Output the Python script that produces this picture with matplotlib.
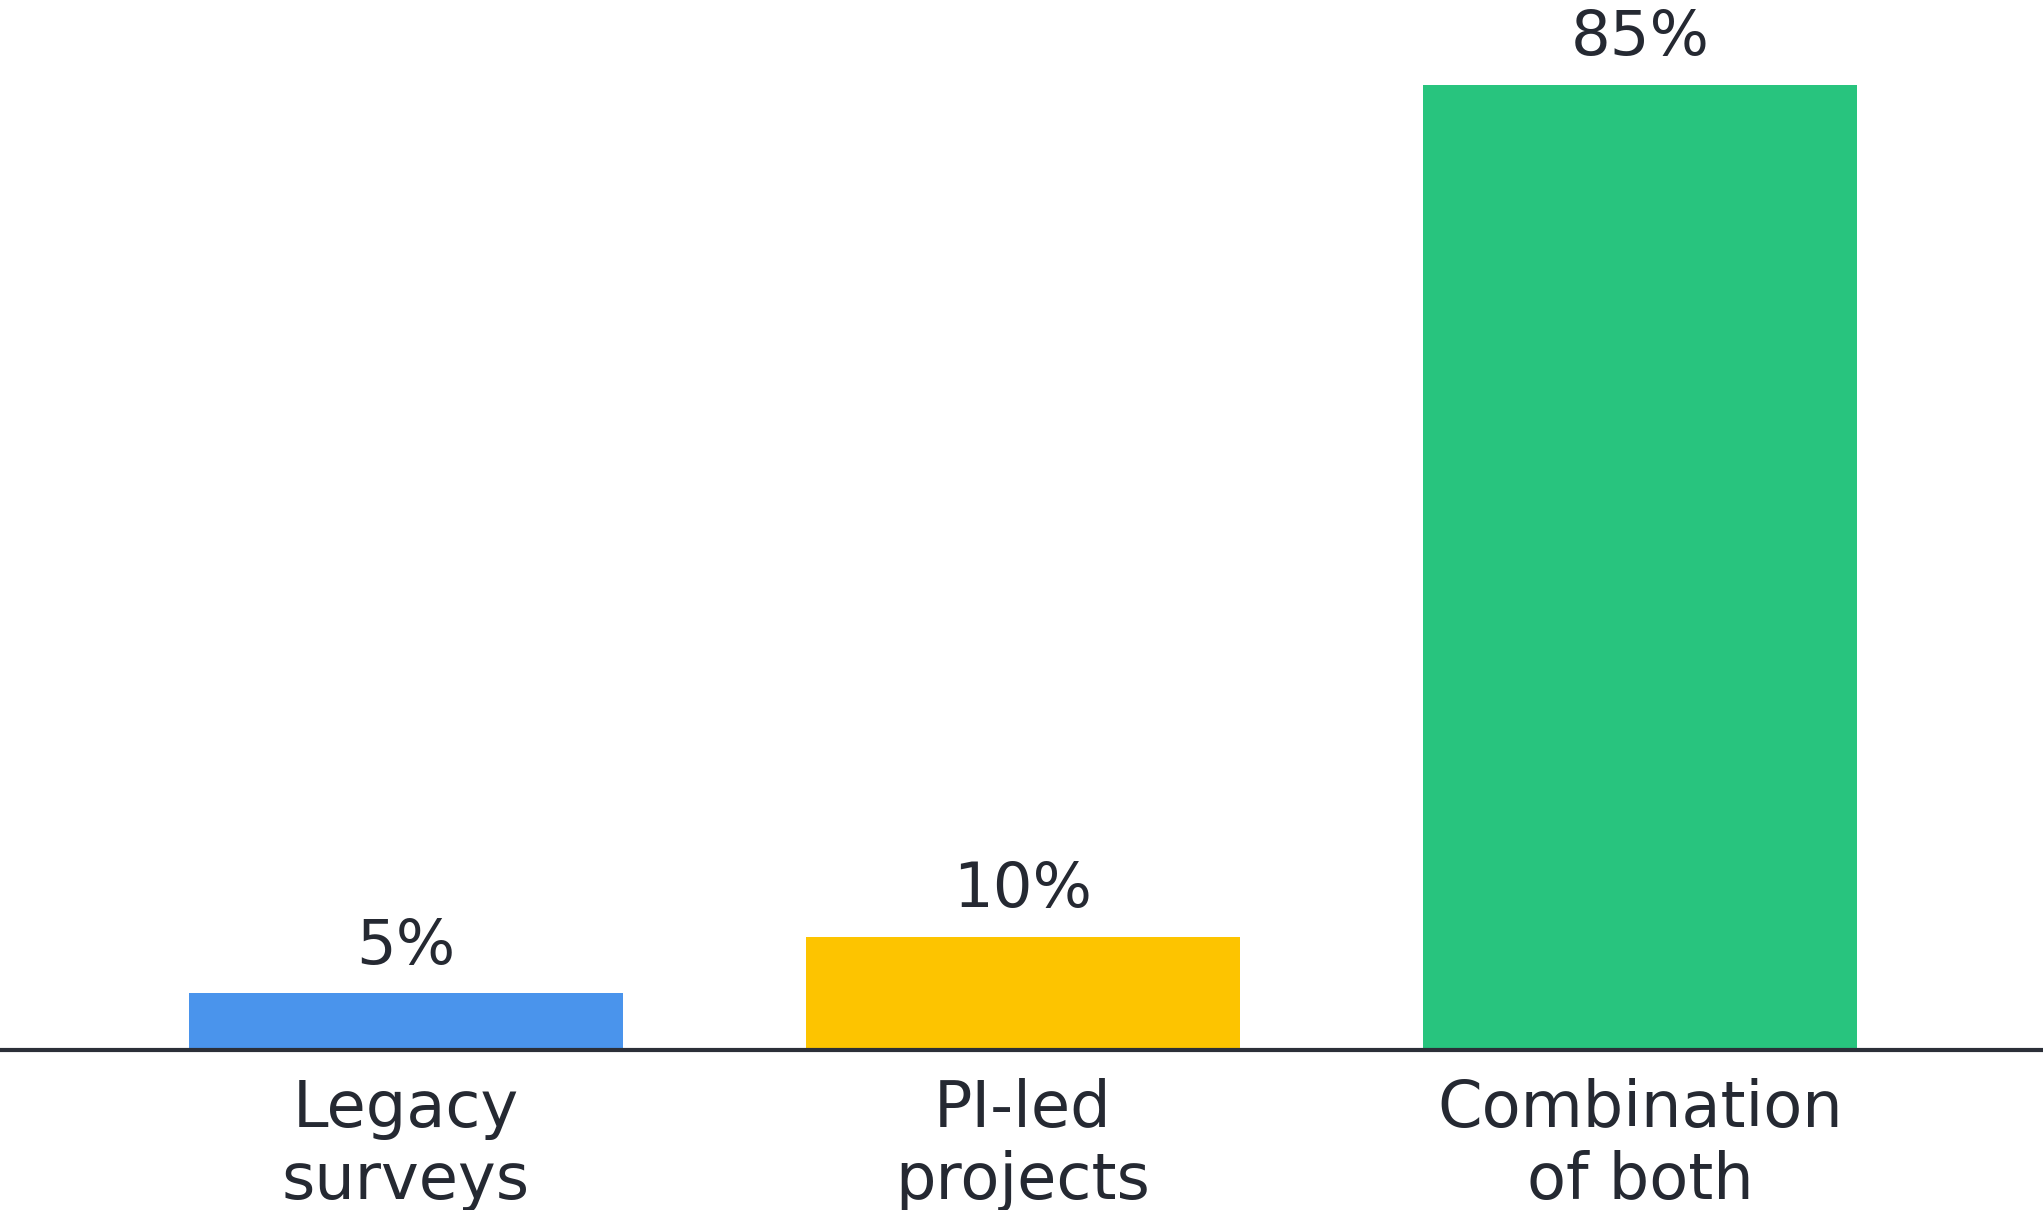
import matplotlib.pyplot as plt

categories = ['Legacy\nsurveys', 'PI-led\nprojects', 'Combination\nof both']
shares = [5, 10, 85]
colors = ['#4A94EC', '#FDC400', '#28C47E']

plt.rcParams['font.family'] = ['DejaVu Sans']
text_col = '#252932'

fig = plt.figure(figsize=(20.43, 12.10), dpi=100)
ax = fig.add_axes([0, 0.1322, 1, 0.8678])

x = range(len(categories))
bars = ax.bar(x, shares, width=0.702, color=colors, zorder=2)

for b, v in zip(bars, shares):
    ax.annotate(f'{v}%', (b.get_x() + b.get_width() / 2, v),
                xytext=(0, 12), textcoords='offset points',
                ha='center', va='bottom', fontsize=45, color=text_col)

ax.set_xlim(-0.658, 2.653)
ax.set_ylim(0, 92.5)
ax.set_xticks(list(x))
ax.set_xticklabels(categories, fontsize=46, color=text_col, linespacing=1.2)
ax.tick_params(axis='x', length=0, pad=20)
ax.set_yticks([])

for s in ['top', 'right', 'left']:
    ax.spines[s].set_visible(False)
ax.spines['bottom'].set_color('#2b2f38')
ax.spines['bottom'].set_linewidth(3)
ax.spines['bottom'].set_zorder(3)

fig.savefig('out.png', dpi=100, facecolor='white')
